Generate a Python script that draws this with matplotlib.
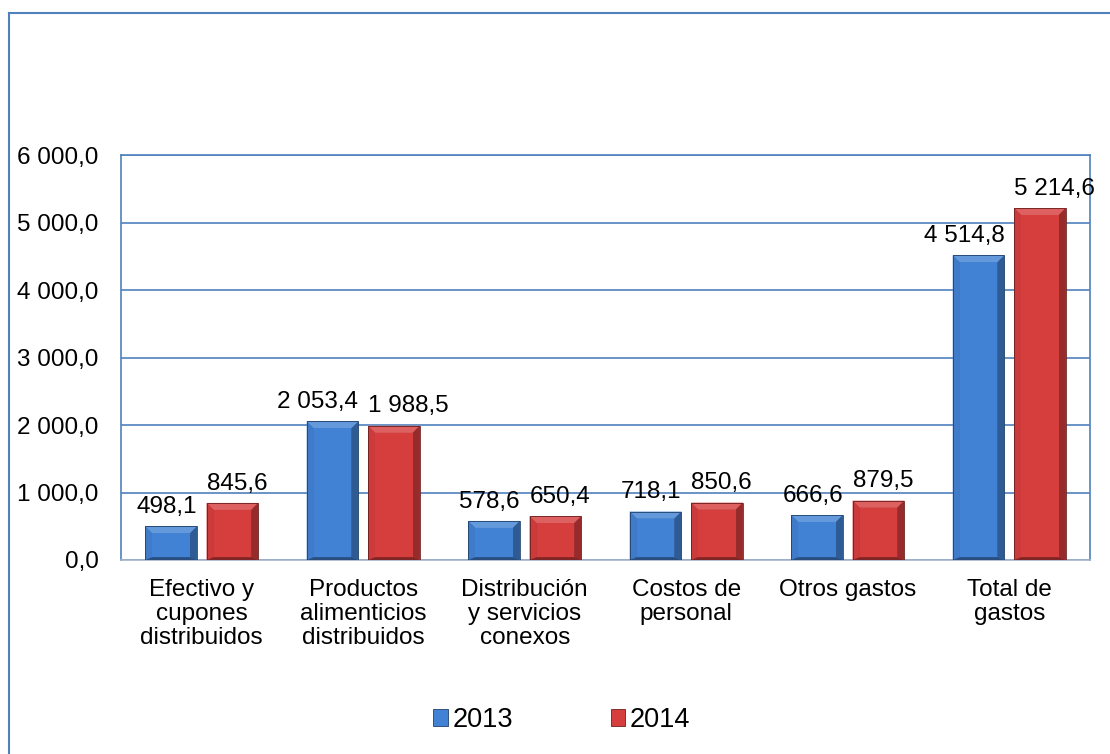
import numpy as np
import matplotlib.pyplot as plt
from matplotlib.patches import Polygon, Patch
from matplotlib.lines import Line2D
import matplotlib.colors as mcolors

plt.rcParams['font.family'] = ['Liberation Sans', 'DejaVu Sans']

categories = [
    "Efectivo y\ncupones\ndistribuidos",
    "Productos\nalimenticios\ndistribuidos",
    "Distribución\ny servicios\nconexos",
    "Costos de\npersonal",
    "Otros gastos",
    "Total de\ngastos",
]
years = ["2013", "2014"]
values_2013 = [498.1, 2053.4, 578.6, 718.1, 666.6, 4514.8]
values_2014 = [845.6, 1988.5, 650.4, 850.6, 879.5, 5214.6]
yticks = [0, 1000, 2000, 3000, 4000, 5000, 6000]

BLUE = "#4282d4"
RED = "#d63e3e"
FRAME = "#4f81bd"
FS = 17.5


def fmt(v, dec=1):
    s = f"{v:,.{dec}f}"
    return s.replace(",", " ").replace(".", ",")


def shade(color, f):
    r, g, b = mcolors.to_rgb(color)
    if f > 0:
        return (r + (1 - r) * f, g + (1 - g) * f, b + (1 - b) * f)
    return (r * (1 + f), g * (1 + f), b * (1 + f))


def bevel_bar(ax, x0, x1, h, color, bev_px=7):
    # bar with a bevelled edge, bevel size converted from pixels to data units
    bbox = ax.get_window_extent()
    xr = ax.get_xlim()
    yr = ax.get_ylim()
    dx = bev_px * (xr[1] - xr[0]) / bbox.width
    dy = bev_px * (yr[1] - yr[0]) / bbox.height
    dy = min(dy, h / 3)
    ix0, ix1, iy0, iy1 = x0 + dx, x1 - dx, 0 + dy * 0.4, h - dy
    faces = [
        ([(x0, 0), (x1, 0), (x1, h), (x0, h)], shade(color, -0.1)),
        ([(x0, h), (x1, h), (ix1, iy1), (ix0, iy1)], shade(color, 0.18)),
        ([(x0, 0), (x0, h), (ix0, iy1), (ix0, iy0)], shade(color, -0.05)),
        ([(x1, 0), (x1, h), (ix1, iy1), (ix1, iy0)], shade(color, -0.3)),
        ([(x0, 0), (x1, 0), (ix1, iy0), (ix0, iy0)], shade(color, -0.4)),
        ([(ix0, iy0), (ix1, iy0), (ix1, iy1), (ix0, iy1)], color),
    ]
    for pts, c in faces:
        ax.add_patch(Polygon(pts, closed=True, facecolor=c, edgecolor="none", zorder=3))
    ax.add_patch(Polygon([(x0, 0), (x1, 0), (x1, h), (x0, h)], closed=True,
                         facecolor="none", edgecolor=shade(color, -0.5), lw=0.6, zorder=4))


fig = plt.figure(figsize=(11.1, 7.54), dpi=100)
ax = fig.add_axes([0.109, 0.2573, 0.873, 0.5371])

x = np.arange(len(categories))
width = 0.32
offset = 0.19

ax.set_xlim(-0.5, len(categories) - 0.5)
ax.set_ylim(0, 6000)
ax.set_yticks(yticks)
ax.set_yticklabels([fmt(v) for v in yticks], fontsize=FS)
ax.set_xticks(x)
ax.set_xticklabels(categories, fontsize=FS, linespacing=1.1)
ax.tick_params(axis="both", length=0)
ax.tick_params(axis="y", pad=16)
ax.tick_params(axis="x", pad=14)
ax.grid(axis="y", color=FRAME, lw=1.2, zorder=0)
ax.set_axisbelow(True)
for side in ["left", "right", "top"]:
    ax.spines[side].set_color(FRAME)
    ax.spines[side].set_linewidth(1.2)
ax.spines["bottom"].set_color("#a6b4c8")
ax.spines["bottom"].set_linewidth(1.2)

fig.canvas.draw()

for i in range(len(categories)):
    b0 = x[i] - offset - width / 2
    b1 = x[i] + offset - width / 2
    bevel_bar(ax, b0, b0 + width, values_2013[i], BLUE)
    bevel_bar(ax, b1, b1 + width, values_2014[i], RED)
    ax.annotate(fmt(values_2013[i]), (b0 + width, values_2013[i]),
                xytext=(0, 6), textcoords="offset points",
                ha="right", va="bottom", fontsize=FS, zorder=5)
    ax.annotate(fmt(values_2014[i]), (b1, values_2014[i]),
                xytext=(0, 6), textcoords="offset points",
                ha="left", va="bottom", fontsize=FS, zorder=5)

handles = [
    Patch(facecolor=BLUE, edgecolor=shade(BLUE, -0.5), lw=0.6),
    Patch(facecolor=RED, edgecolor=shade(RED, -0.5), lw=0.6),
]
fig.legend(handles, years, loc="center", bbox_to_anchor=(0.506, 1 - 720 / 754),
           ncol=2, frameon=False, fontsize=19.5, handlelength=0.55,
           handleheight=0.55, handletextpad=0.15, columnspacing=3.6)

# outer chart frame
fig.add_artist(Line2D([9 / 1110, 9 / 1110], [0, 1 - 13 / 754],
                      transform=fig.transFigure, color=FRAME, lw=1.5))
fig.add_artist(Line2D([9 / 1110, 1], [1 - 13 / 754, 1 - 13 / 754],
                      transform=fig.transFigure, color=FRAME, lw=1.5))

fig.savefig("out.png", dpi=100)
